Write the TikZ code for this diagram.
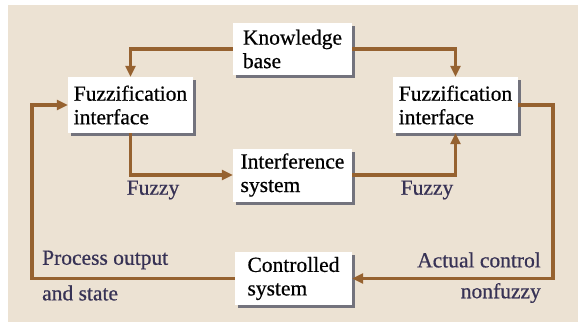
\documentclass[tikz,border=0pt]{standalone}
\usepackage{fontspec}
\setmainfont[FakeBold=0.6]{Liberation Serif}
\usetikzlibrary{arrows.meta,shadows}
\definecolor{paper}{RGB}{236,226,211}
\definecolor{wire}{RGB}{150,98,48}
\definecolor{inkblue}{RGB}{55,50,85}
\definecolor{shade}{RGB}{115,115,125}

\begin{document}
\begin{tikzpicture}[x=1pt,y=-1pt,
    block/.style={fill=white,align=left,inner sep=0pt,
        font=\fontsize{21.5}{23.5}\selectfont,
        drop shadow={shadow xshift=3pt,shadow yshift=-3pt,fill=shade,opacity=1}},
    flow/.style={draw=wire,line width=3.5pt,-{Triangle[length=11pt,width=10pt]}},
    lbl/.style={text=inkblue,inner sep=0pt,font=\fontsize{21.5}{23.5}\selectfont}]
        \useasboundingbox (0,0) rectangle (578,322);
        \fill[paper] (8,5) rectangle (578,322);

        % blocks
        \node[block,minimum width=119,minimum height=52] (kb) at (292.5,49) {Knowledge\\base};
        \node[block,minimum width=125,minimum height=56] (fil) at (130.5,105) {Fuzzification\\interface};
        \node[block,minimum width=125,minimum height=56] (fir) at (455.5,105) {Fuzzification\\interface};
        \node[block,minimum width=119,minimum height=53] (is) at (292.5,175) {Interference\\system};
        \node[block,minimum width=117,minimum height=53] (cs) at (293.5,278.5) {Controlled\\system};

        % return paths
        \coordinate (ltrn) at (32,0);
        \coordinate (rtrn) at (553,0);

        \draw[flow] (kb.west) -| (fil.north);
        \draw[flow] (kb.east) -| (fir.north);
        \draw[flow] (fil.south) |- (is.west);
        \draw[flow] (is.east) -| (fir.south);
        \draw[flow] (fir.east) -- (fir.east -| rtrn) |- (cs.east);
        \draw[flow] (cs.west) -- (cs.west -| ltrn) |- (fil.west);

        % labels
        \node[lbl] (fzl) at (153,190) {Fuzzy};
        \node[lbl] (fzr) at (427,190) {Fuzzy};
        \node[lbl,anchor=west] (pout) at (42,260) {Process output};
        \node[lbl,anchor=west] (pstate) at (42,293) {and state};
        \node[lbl,anchor=east] (actl) at (541,260) {Actual control};
        \node[lbl,anchor=east] (nfz) at (541,293) {nonfuzzy};
    \end{tikzpicture}
\end{document}
